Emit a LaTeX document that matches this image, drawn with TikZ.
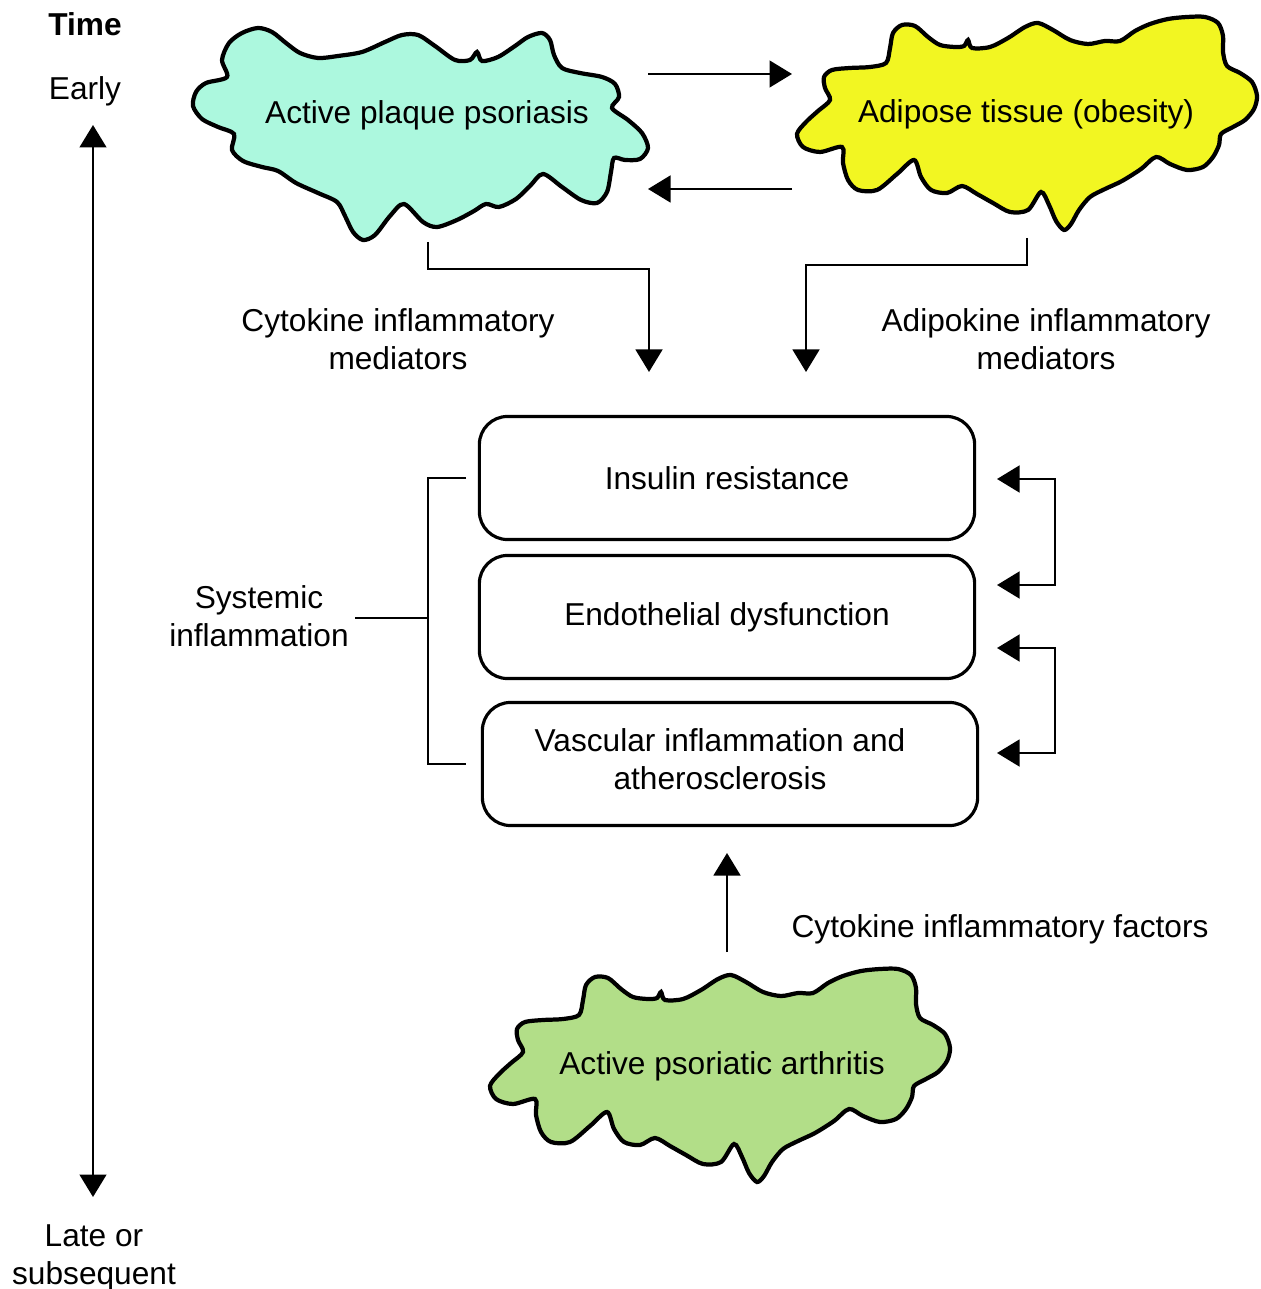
\documentclass[tikz,border=0pt]{standalone}
\usepackage{fontspec}
\setmainfont{Liberation Sans}
\usetikzlibrary{arrows.meta}
\definecolor{plaquecol}{RGB}{172,248,222}
\definecolor{fatcol}{RGB}{242,246,34}
\definecolor{arthcol}{RGB}{178,222,136}
\newcommand{\plaqueblob}{plot[smooth cycle,tension=0.5] coordinates {(227,77) (222,60) (229,43) (242,33) (258,28) (272,32) (286,43) (300,53) (318,58) (338,56) (362,52) (385,42) (402,35) (418,35) (435,46) (455,60) (470,60) (477,52) (482,61) (498,57) (515,46) (528,37) (542,33) (550,40) (554,55) (562,68) (580,73) (602,77) (615,84) (619,97) (612,108) (628,120) (642,133) (648,148) (640,159) (625,160) (614,158) (611,172) (607,192) (597,203) (581,200) (562,187) (543,174) (530,186) (516,199) (499,207) (486,204) (474,211) (457,220) (437,227) (423,222) (404,204) (390,216) (375,235) (363,240) (353,232) (345,216) (337,202) (318,193) (296,183) (278,171) (262,167) (243,161) (232,150) (234,134) (218,127) (202,119) (193,106) (196,92) (206,83)}}
\newcommand{\fatblob}{plot[smooth cycle,tension=0.5] coordinates {(830,100) (825,88) (824,77) (832,70) (850,68) (870,67) (886,63) (890,48) (893,33) (902,25) (915,26) (928,37) (940,45) (955,47) (964,46) (968,40) (972,48) (990,47) (1008,38) (1025,27) (1038,23) (1053,30) (1070,40) (1088,44) (1105,41) (1120,41) (1135,31) (1150,24) (1168,19) (1187,17) (1205,17) (1218,23) (1223,36) (1223,52) (1227,66) (1240,73) (1252,82) (1257,96) (1254,109) (1245,120) (1233,127) (1221,134) (1219,145) (1213,157) (1203,167) (1187,170) (1170,164) (1156,157) (1141,169) (1122,181) (1105,189) (1090,197) (1079,210) (1071,224) (1064,230) (1056,221) (1049,205) (1041,192) (1028,210) (1010,212) (993,203) (977,194) (962,186) (947,193) (931,190) (921,177) (914,160) (897,174) (877,190) (858,190) (848,180) (843,163) (842,147) (820,152) (803,147) (797,134) (806,122) (818,111)}}
\begin{document}
\begin{tikzpicture}[>={Triangle[width=7.6pt,length=6.4pt]}, x=0.01cm, y=-0.01cm, line width=0.7pt,
  font=\fontsize{9}{10.8}\selectfont,
  blob/.style={draw, line width=1.2pt},
  box/.style={draw, line width=0.9pt, rounded corners=8pt, minimum width=4.95cm, minimum height=1.23cm, align=center}]
		\useasboundingbox (0,0) rectangle (1260,1289);
		\filldraw[blob, fill=plaquecol] \plaqueblob;
		\filldraw[blob, fill=fatcol] \fatblob;
		\begin{scope}[shift={(-307,952)}]
		\filldraw[blob, fill=arthcol] \fatblob;
		\end{scope}
		\node (time) at (85,24) {\bfseries Time};
		\node (early) at (85,91) {Early};
		\node[align=center] (late) at (94,1258) {Late or\\subsequent};
		\node (plaque) at (427,115) {Active plaque psoriasis};
		\node (fat) at (1026,114) {Adipose tissue (obesity)};
		\node (arth) at (722,1066) {Active psoriatic arthritis};
		\node[align=center] (cytmed) at (398,339) {Cytokine inflammatory\\mediators};
		\node[align=center] (adimed) at (1046,339) {Adipokine inflammatory\\mediators};
		\node (cytfac) at (1000,929) {Cytokine inflammatory factors};
		\node[align=center] (systemic) at (259,616) {Systemic\\inflammation};
		\node[box] (insulin) at (727,478) {Insulin resistance};
		\node[box] (endo) at (727,617) {Endothelial dysfunction};
		\node[box] (vasc) at (730,764) {};
		\node[align=center] (vasctext) at (720,759) {Vascular inflammation and\\atherosclerosis};
		\coordinate (timetop) at (93,125);
		\coordinate (timebot) at (93,1197);
		\draw[<->] (timetop) -- (timebot);
		\coordinate (plaqueR) at (648,74);
		\coordinate (fatL) at (792,74);
		\coordinate (fatL2) at (792,189);
		\coordinate (plaqueR2) at (648,189);
		\draw[->] (plaqueR) -- (fatL);
		\draw[->] (fatL2) -- (plaqueR2);
		\coordinate (plaqueout) at (428,242);
		\coordinate (cytin) at (649,372);
		\coordinate (fatout) at (1027,238);
		\coordinate (adiin) at (806,372);
		\draw[->] (plaqueout) -- ++(0,27) -| (cytin);
		\draw[->] (fatout) -- ++(0,27) -| (adiin);
		\coordinate (brtop) at (466,478);
		\coordinate (brbot) at (466,764);
		\coordinate (brmid) at (428,618);
		\coordinate (sysend) at (355,618);
		\draw (brtop) -- ++(-38,0) |- (brbot);
		\draw (sysend) -- (brmid);
		\coordinate (ins1) at (997,479);
		\coordinate (endo1) at (997,585);
		\coordinate (endo2) at (997,648);
		\coordinate (vasc1) at (997,753);
		\draw[<->] (ins1) -- ++(58,0) |- (endo1);
		\draw[<->] (endo2) -- ++(58,0) |- (vasc1);
		\coordinate (arthtop) at (727,952);
		\coordinate (vascbot) at (727,853);
		\draw[->] (arthtop) -- (vascbot);
\end{tikzpicture}
\end{document}
